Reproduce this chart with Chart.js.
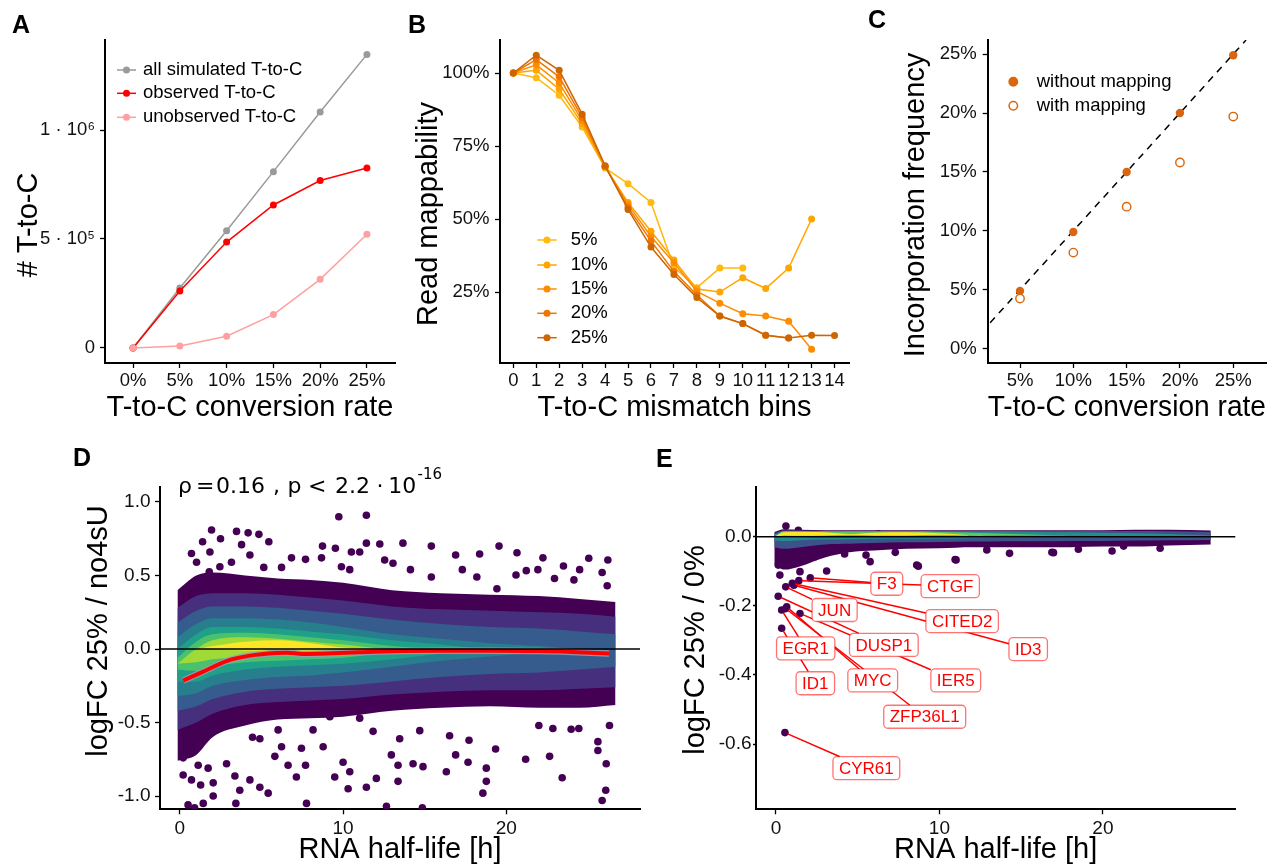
<!DOCTYPE html>
<html><head><meta charset="utf-8">
<script src="https://cdn.jsdelivr.net/npm/chart.js@4.4.1/dist/chart.umd.min.js"></script>
<style>
html,body{margin:0;padding:0;background:#fff;}
body{width:1279px;height:867px;position:relative;overflow:hidden;font-family:"Liberation Sans",Arial,sans-serif;}
canvas{position:absolute;display:block;}
.tag{position:absolute;font-weight:bold;font-size:25px;line-height:1;color:#000;font-family:"Liberation Sans",Arial,sans-serif;}
</style></head><body>
<canvas id="cA" style="left:0;top:0"></canvas>
<canvas id="cB" style="left:400px;top:0"></canvas>
<canvas id="cC" style="left:860px;top:0"></canvas>
<canvas id="cD" style="left:0;top:430px"></canvas>
<canvas id="cE" style="left:660px;top:430px"></canvas>
<div class="tag" style="left:12px;top:12px">A</div>
<div class="tag" style="left:408px;top:12px">B</div>
<div class="tag" style="left:868px;top:7px">C</div>
<div class="tag" style="left:73px;top:445px">D</div>
<div class="tag" style="left:656px;top:446px">E</div>
<script>
// ================= DATA =================
// Panel A
const conversionRates = [0, 5, 10, 15, 20, 25];
const allSimulated = [0, 275000, 538000, 809000, 1083000, 1347000];
const observedTC = [0, 261000, 486000, 656000, 768000, 826000];
const unobservedTC = [0, 9000, 54000, 153000, 315000, 522000];
const aYTicks = [0, 500000, 1000000];
const aYTickLabels = ['0', '5 · 10\u2075', '1 · 10\u2076'];
const aXTickLabels = ['0%', '5%', '10%', '15%', '20%', '25%'];

// Panel B
const mismatchBins = [0, 1, 2, 3, 4, 5, 6, 7, 8, 9, 10, 11, 12, 13, 14];
const bSeriesNames = ['5%', '10%', '15%', '20%', '25%'];
const mappability5 = [100, 98.4, 92.4, 81.5, 67.5, 62.1, 55.7, 33.5, 26.5, 33.2, 33.2];
const mappability10 = [100, 100.9, 94.5, 82.6, 67.8, 55.7, 45.8, 36.0, 26.0, 25.0, 29.9, 26.2, 33.2, 50.0];
const mappability15 = [100, 102.8, 96.6, 83.7, 68.0, 55.0, 44.0, 35.0, 25.2, 21.2, 17.6, 16.8, 15.0, 5.4];
const mappability20 = [100, 104.6, 98.7, 84.8, 68.1, 54.0, 42.5, 32.0, 24.0, 16.8, 14.2, 10.2, 9.3];
const mappability25 = [100, 106.1, 100.9, 85.9, 68.2, 53.3, 40.4, 31.0, 23.1, 16.8, 14.2, 10.2, 9.3, 10.2, 10.1];
const bYTicks = [25, 50, 75, 100];

// Panel C
const cRates = [5, 10, 15, 20, 25];
const withoutMapping = [4.9, 9.9, 15.0, 20.0, 24.9];
const withMapping = [4.25, 8.15, 12.05, 15.8, 19.7];
const identityEnds = [2.2, 26.2];
const cYTicks = [0, 5, 10, 15, 20, 25];

// Panel D : density cloud bands (half-life grid, upper/lower bounds per density level)
const dCloudX = [-0.15, 1, 2, 4, 6, 8, 10, 13, 16, 19, 22, 24.5, 26.7];
const dPurpleUp = [0.40, 0.50, 0.52, 0.50, 0.48, 0.47, 0.45, 0.40, 0.38, 0.37, 0.36, 0.34, 0.32];
const dPurpleLo = [-0.76, -0.72, -0.60, -0.52, -0.48, -0.47, -0.46, -0.42, -0.40, -0.39, -0.40, -0.40, -0.38];
const dIndigoUp = [0.28, 0.36, 0.38, 0.38, 0.37, 0.35, 0.33, 0.29, 0.27, 0.26, 0.25, 0.24, 0.22];
const dIndigoLo = [-0.55, -0.50, -0.44, -0.38, -0.36, -0.35, -0.34, -0.31, -0.29, -0.28, -0.28, -0.27, -0.26];
const dBlueUp = [0.18, 0.26, 0.29, 0.29, 0.28, 0.26, 0.24, 0.20, 0.17, 0.15, 0.14, 0.12, 0.10];
const dBlueLo = [-0.42, -0.39, -0.34, -0.29, -0.27, -0.26, -0.25, -0.22, -0.19, -0.17, -0.16, -0.14, -0.12];
const dTealUp = [0.08, 0.17, 0.21, 0.21, 0.20, 0.18, 0.15, 0.10, 0.07, 0.04, 0.02, 0.0, 0.0];
const dTealLo = [-0.32, -0.30, -0.25, -0.21, -0.19, -0.18, -0.16, -0.12, -0.08, -0.05, -0.02, 0.0, 0.0];
const dGreenUp = [0.0, 0.10, 0.15, 0.15, 0.14, 0.12, 0.10, 0.06, 0.03, 0.0, 0.0, 0.0, 0.0];
const dGreenLo = [-0.22, -0.22, -0.18, -0.14, -0.12, -0.11, -0.10, -0.07, -0.03, 0.0, 0.0, 0.0, 0.0];
const dLimeUp = [-0.06, 0.05, 0.10, 0.11, 0.10, 0.08, 0.06, 0.02, 0.0, 0.0, 0.0, 0.0, 0.0];
const dLimeLo = [-0.14, -0.15, -0.12, -0.09, -0.08, -0.07, -0.06, -0.02, 0.0, 0.0, 0.0, 0.0, 0.0];
const dChartreuseUp = [-0.10, 0.0, 0.06, 0.08, 0.07, 0.05, 0.03, 0.0, 0.0, 0.0, 0.0, 0.0, 0.0];
const dChartreuseLo = [-0.10, -0.09, -0.07, -0.05, -0.04, -0.03, -0.02, 0.0, 0.0, 0.0, 0.0, 0.0, 0.0];
const dYellowUp = [0.0, 0.0, 0.02, 0.05, 0.06, 0.04, 0.01, 0.0, 0.0, 0.0, 0.0, 0.0, 0.0];
const dYellowLo = [0.0, 0.0, 0.0, -0.01, -0.01, -0.01, 0.0, 0.0, 0.0, 0.0, 0.0, 0.0, 0.0];
// Panel D : isolated genes outside the dense cloud [half-life, logFC]
const dOutlierHalfLife = [1.94,3.47,4.18,4.84,1.39,2.49,5.45,3.78,9.74,11.43,0.71,1.84,4.29,8.74,9.53,11.43,12.25,11.02,10.51,6.84,7.7,8.68,3.16,1.02,12.55,9.9,10.41,6.23,5.14,2.45,1.8,
 13.67,15.41,16.9,18.37,19.56,20.66,22.25,23.51,25.06,26.23,13.06,17.31,14.13,18.2,20.6,21.23,21.94,22.96,24.5,25.88,24.15,26.19,19.43,15.41,
 12.96,13.37,14.29,14.9,13.37,16.33,17.66,18.78,18.78,18.57,19.35,17.72,16.9,21.19,22.66,23.43,25.62,25.62,26.13,26.1,25.88,13.47,14.7,16.53,22.0,22.86,23.98,24.45,26.33,14.86,12.66,
 0.2,0.71,1.27,2.04,0.2,1.12,1.73,2.86,3.37,3.67,2.04,1.43,3.43,4.29,4.9,5.41,4.45,4.9,5.82,6.23,6.63,7.14,7.45,7.7,7.76,8.78,9.49,10.0,10.41,10.31,11.43,12.04,8.16,9.19,11.02,11.84,6.02,0.5,0.9];
const dOutlierLogFC = [0.81,0.80,0.79,0.78,0.73,0.75,0.73,0.71,0.90,0.91,0.65,0.66,0.64,0.70,0.685,0.72,0.714,0.66,0.66,0.62,0.61,0.62,0.59,0.59,0.605,0.56,0.54,0.555,0.555,0.56,0.525,
 0.72,0.70,0.64,0.646,0.70,0.655,0.62,0.565,0.617,0.605,0.583,0.54,0.54,0.49,0.503,0.533,0.54,0.48,0.54,0.52,0.47,0.43,0.41,0.49,
 -0.72,-0.79,-0.78,-0.80,-0.90,-0.835,-0.77,-0.81,-0.90,-0.98,-0.68,-0.62,-0.72,-0.75,-0.73,-0.875,-0.63,-0.69,-0.78,-0.96,-1.03,-0.61,-0.555,-0.59,-0.52,-0.54,-0.546,-0.54,-0.52,-1.08,-1.07,
 -0.857,-0.89,-0.925,-0.91,-0.74,-0.79,-0.81,-0.78,-0.864,-0.96,-1.0,-1.05,-1.05,-0.89,-0.94,-0.98,-0.6,-0.61,-0.73,-0.665,-0.79,-0.87,-0.675,-0.79,-1.05,-0.665,-0.87,-0.77,-0.835,-0.95,-0.94,-0.88,-0.55,-0.46,-0.47,-0.56,-0.55,-1.06,-1.08];
// Panel D : loess trend
const dTrendHalfLife = [0.2, 1.4, 2.9, 4.3, 5.9, 6.6, 7.5, 9, 11, 13, 16, 19, 22, 24, 26.3];
const dTrendLogFC = [-0.215, -0.155, -0.08, -0.045, -0.027, -0.025, -0.033, -0.03, -0.022, -0.015, -0.012, -0.012, -0.014, -0.02, -0.03];
const dYTicks = [-1, -0.5, 0, 0.5, 1];
const dYTickLabels = ['-1.0', '-0.5', '0.0', '0.5', '1.0'];
const halfLifeTicks = [0, 10, 20];

// Panel E : band
const eBandX = [-0.1, 0.5, 1.5, 3, 4.5, 6, 8, 10, 12, 14, 16, 18, 20, 22, 24, 26.6];
const ePurpleUp = [0.014, 0.022, 0.02, 0.019, 0.019, 0.019, 0.019, 0.019, 0.019, 0.019, 0.019, 0.019, 0.019, 0.02, 0.02, 0.018];
const ePurpleLo = [-0.08, -0.095, -0.085, -0.06, -0.045, -0.04, -0.035, -0.033, -0.03, -0.03, -0.03, -0.03, -0.028, -0.028, -0.025, -0.022];
const eBlueUp = [0.01, 0.018, 0.018, 0.017, 0.017, 0.017, 0.017, 0.017, 0.017, 0.017, 0.017, 0.017, 0.017, 0.017, 0.016, 0.014];
const eBlueLo = [-0.03, -0.035, -0.03, -0.022, -0.02, -0.018, -0.016, -0.015, -0.014, -0.013, -0.013, -0.012, -0.012, -0.011, -0.01, -0.009];
const eTealUp = [0.006, 0.017, 0.017, 0.016, 0.016, 0.016, 0.016, 0.016, 0.015, 0.015, 0.014, 0.013, 0.012, 0.01, 0.008, 0.004];
const eTealLo = [-0.01, -0.012, -0.01, -0.008, -0.007, -0.006, -0.006, -0.005, -0.004, -0.003, -0.002, -0.002, -0.001, 0, 0, 0];
const eGreenUp = [0, 0.016, 0.016, 0.015, 0.015, 0.015, 0.015, 0.014, 0.012, 0.009, 0.006, 0.003, 0, 0, 0, 0];
const eGreenLo = [0, -0.002, -0.002, 0.0, 0.0, 0.001, 0.001, 0.002, 0.003, 0.004, 0.004, 0.003, 0, 0, 0, 0];
const eYellowUp = [0, 0.013, 0.014, 0.013, 0.008, 0.012, 0.013, 0.01, 0.004, 0, 0, 0, 0, 0, 0, 0];
const eYellowLo = [0, 0.004, 0.003, 0.004, 0.006, 0.004, 0.004, 0.006, 0.004, 0, 0, 0, 0, 0, 0, 0];
const eOutlierHalfLife = [0.61,1.37,6.27,0.24,0.14,0.96,1.67,3.1,5.51,5.76,8.61,11.02,14.29,16.98,1.47,0.24,2.39,16.88,20.56,21.27,12.9,10.96,8.71,4.2,7.3,18.5,23.5];
const eOutlierLogFC = [0.031,0.019,0.008,-0.048,-0.082,-0.072,-0.067,-0.099,-0.053,-0.072,-0.082,-0.067,-0.048,-0.046,-0.101,-0.111,-0.058,-0.045,-0.041,-0.027,-0.038,-0.066,-0.085,-0.05,-0.045,-0.036,-0.033];
// Panel E : labelled genes
const genes = ['F3', 'CTGF', 'CITED2', 'ID3', 'JUN', 'DUSP1', 'EGR1', 'ID1', 'MYC', 'IER5', 'ZFP36L1', 'CYR61'];
const geneHalfLife = [2.1, 1.4, 1.0, 1.1, 0.6, 0.14, 0.35, 0.35, 0.66, 1.47, 0.6, 0.55];
const geneLogFC = [-0.119, -0.127, -0.135, -0.14, -0.145, -0.172, -0.212, -0.265, -0.203, -0.222, -0.208, -0.567];
const labelHalfLife = [6.78, 10.66, 11.39, 15.43, 3.59, 6.60, 1.82, 2.41, 5.92, 11.0, 9.1, 5.53];
const labelLogFC = [-0.136, -0.143, -0.244, -0.325, -0.212, -0.313, -0.323, -0.424, -0.416, -0.416, -0.521, -0.670];
const eYTicks = [-0.6, -0.4, -0.2, 0];
const eYTickLabels = ['-0.6', '-0.4', '-0.2', '0.0'];

// ================= HELPERS =================
const FONT = '"Liberation Sans", Arial, Helvetica, sans-serif';
const MATHFONT = '"DejaVu Sans", sans-serif';
const xy = (xs, ys) => ys.map((y, i) => ({x: xs[i], y: y}));

function axis(o) {
  return {
    type: 'linear', position: o.position, min: o.min, max: o.max,
    afterBuildTicks: s => { s.ticks = o.ticks.map(v => ({value: v})); },
    afterFit: s => { if (o.position === 'left') s.width = o.size; else s.height = o.size; },
    ticks: {
      font: {family: FONT, size: o.fontSize || 18.5}, color: '#111', padding: o.pad,
      autoSkip: false, maxRotation: 0, minRotation: 0,
      callback: (v) => { const i = o.ticks.indexOf(v); return o.labels ? o.labels[i] : String(v); }
    },
    grid: {display: true, drawOnChartArea: false, drawTicks: true, tickLength: o.tickLen, tickWidth: 1.3, tickColor: '#000'},
    border: {display: true, color: '#000', width: 2},
    title: o.title ? {display: true, text: o.title, font: {family: FONT, size: 29}, color: '#000', padding: {top: 0, bottom: o.titlePad}} : {display: false}
  };
}

const yTitlePlugin = {
  id: 'ytitle',
  afterDraw(chart, args, opts) {
    if (!opts || !opts.text) return;
    const ctx = chart.ctx; ctx.save();
    ctx.translate(opts.x, opts.y); ctx.rotate(-Math.PI / 2);
    ctx.font = '29px ' + FONT; ctx.fillStyle = '#000';
    ctx.textAlign = 'center'; ctx.textBaseline = 'middle';
    ctx.fillText(opts.text, 0, 0); ctx.restore();
  }
};
const legendPlugin = {
  id: 'innerLegend',
  afterDraw(chart, args, opts) {
    if (!opts || !opts.indices) return;
    const ctx = chart.ctx; ctx.save();
    ctx.font = '18.5px ' + FONT; ctx.textBaseline = 'middle'; ctx.textAlign = 'left';
    opts.indices.forEach((di, k) => {
      const ds = chart.data.datasets[di]; const y = opts.ys[k];
      const col = ds.pointBorderColor || ds.borderColor;
      if (opts.style === 'linepoint') {
        ctx.strokeStyle = ds.borderColor; ctx.lineWidth = 1.5;
        ctx.beginPath(); ctx.moveTo(opts.x0, y); ctx.lineTo(opts.x1, y); ctx.stroke();
        ctx.fillStyle = ds.borderColor; ctx.beginPath(); ctx.arc((opts.x0 + opts.x1) / 2, y, opts.r, 0, Math.PI * 2); ctx.fill();
      } else {
        ctx.beginPath(); ctx.arc(opts.x0, y, opts.r, 0, Math.PI * 2);
        ctx.fillStyle = ds.pointBackgroundColor; ctx.fill();
        ctx.strokeStyle = col; ctx.lineWidth = 1.5; ctx.stroke();
      }
      ctx.fillStyle = '#000'; ctx.fillText(ds.label, opts.textX, y);
    });
    ctx.restore();
  }
};
const hlinePlugin = {
  id: 'hline',
  afterDatasetsDraw(chart, args, opts) {
    if (!opts || opts.value === undefined) return;
    const y = chart.scales.y.getPixelForValue(opts.value), a = chart.chartArea, ctx = chart.ctx;
    ctx.save(); ctx.strokeStyle = '#000'; ctx.lineWidth = 1.6;
    ctx.beginPath(); ctx.moveTo(a.left, y); ctx.lineTo(a.right, y); ctx.stroke(); ctx.restore();
  }
};
const annotPlugin = {
  id: 'annot',
  afterDraw(chart, args, opts) {
    if (!opts || !opts.parts) return;
    const ctx = chart.ctx; ctx.save(); ctx.fillStyle = '#000'; ctx.textBaseline = 'alphabetic'; ctx.textAlign = 'left';
    opts.parts.forEach(p => { ctx.font = p.size + 'px ' + MATHFONT; ctx.fillText(p.t, p.x, p.y); });
    ctx.restore();
  }
};
const genePlugin = {
  id: 'geneLabels',
  afterDatasetsDraw(chart, args, opts) {
    if (!opts || !opts.names) return;
    const ctx = chart.ctx, sx = chart.scales.x, sy = chart.scales.y;
    ctx.save(); ctx.font = '17px ' + FONT;
    const boxes = opts.names.map((n, i) => {
      const w = ctx.measureText(n).width + 12, h = 23;
      return {n, w, h, cx: sx.getPixelForValue(opts.lx[i]), cy: sy.getPixelForValue(opts.ly[i]),
              px: sx.getPixelForValue(opts.px[i]), py: sy.getPixelForValue(opts.py[i])};
    });
    ctx.strokeStyle = '#FF0000'; ctx.lineWidth = 1.5;
    boxes.forEach(b => {
      const dx = b.cx - b.px, dy = b.cy - b.py;
      const t = Math.min((b.w / 2) / Math.max(Math.abs(dx), 1e-6), (b.h / 2) / Math.max(Math.abs(dy), 1e-6));
      const ex = b.cx - dx * t, ey = b.cy - dy * t;
      const len = Math.hypot(dx, dy), sx0 = b.px + dx / len * 3, sy0 = b.py + dy / len * 3;
      ctx.beginPath(); ctx.moveTo(sx0, sy0); ctx.lineTo(ex, ey); ctx.stroke();
    });
    boxes.forEach(b => {
      const x = b.cx - b.w / 2, y = b.cy - b.h / 2;
      ctx.beginPath(); ctx.roundRect(x, y, b.w, b.h, 4);
      ctx.fillStyle = '#fff'; ctx.fill();
      ctx.strokeStyle = 'rgba(255,0,0,0.55)'; ctx.lineWidth = 1.3; ctx.stroke();
      ctx.fillStyle = '#FF0000'; ctx.textAlign = 'center'; ctx.textBaseline = 'middle';
      ctx.fillText(b.n, b.cx, b.cy + 1);
    });
    ctx.restore();
  }
};
Chart.register(yTitlePlugin, legendPlugin, hlinePlugin, annotPlugin, genePlugin);

function make(id, w, h, datasets, scales, padding, plugins) {
  const cv = document.getElementById(id); cv.width = w; cv.height = h;
  return new Chart(cv, {
    type: 'line', data: {datasets},
    options: {
      responsive: false, animation: false, devicePixelRatio: 1,
      layout: {padding},
      plugins: Object.assign({legend: {display: false}, tooltip: {enabled: false}}, plugins),
      scales
    }
  });
}
function bandSets(xs, levels) {
  const out = [];
  levels.forEach(l => {
    out.push({data: xy(xs, l[1]), fill: '+1', backgroundColor: l[0], borderColor: 'rgba(0,0,0,0)', borderWidth: 0, pointRadius: 0, cubicInterpolationMode: 'monotone'});
    out.push({data: xy(xs, l[2]), fill: false, borderColor: 'rgba(0,0,0,0)', borderWidth: 0, pointRadius: 0, cubicInterpolationMode: 'monotone'});
  });
  return out;
}
function lineSet(label, xs, ys, color, order, r) {
  return {label, data: xy(xs, ys), borderColor: color, backgroundColor: color, pointBackgroundColor: color,
          borderWidth: 1.5, pointRadius: r, pointBorderWidth: 0, order, tension: 0};
}

// ================= PANEL A =================
make('cA', 400, 430, [
  lineSet('all simulated T-to-C', conversionRates, allSimulated, '#9A9A9A', 3, 3.5),
  lineSet('observed T-to-C', conversionRates, observedTC, '#FF0000', 2, 3.5),
  lineSet('unobserved T-to-C', conversionRates, unobservedTC, '#FFA0A0', 1, 3.5)
], {
  x: axis({position: 'bottom', min: -3, max: 28, ticks: conversionRates, labels: aXTickLabels, size: 67, tickLen: 5, pad: 1.5, title: 'T-to-C conversion rate', titlePad: 4.5}),
  y: axis({position: 'left', min: -69000, max: 1413000, ticks: aYTicks, labels: aYTickLabels, size: 105, tickLen: 5, pad: 5})
}, {left: 0, right: 5, top: 40, bottom: 0}, {
  ytitle: {text: '# T-to-C', x: 29, y: 225},
  innerLegend: {indices: [0, 1, 2], ys: [70, 93.3, 117.3], x0: 117, x1: 136, r: 3.5, textX: 143, style: 'linepoint'}
});

// ================= PANEL B =================
const bColors = ['#FFB90F', '#FFA500', '#FF8C00', '#EE7600', '#CD6600'];
const bValues = [mappability5, mappability10, mappability15, mappability20, mappability25];
make('cB', 460, 430, bValues.map((v, i) => lineSet(bSeriesNames[i], mismatchBins.slice(0, v.length), v, bColors[i], 5 - i, 3.5)), {
  x: axis({position: 'bottom', min: -0.58, max: 14.63, ticks: mismatchBins, size: 67, tickLen: 5, pad: 1.5, title: 'T-to-C mismatch bins', titlePad: 4.5}),
  y: axis({position: 'left', min: 0.7, max: 111.3, ticks: bYTicks, labels: bYTicks.map(v => v + '%'), size: 100, tickLen: 5, pad: 5.5})
}, {left: 0, right: 11, top: 40, bottom: 0}, {
  ytitle: {text: 'Read mappability', x: 29, y: 214},
  innerLegend: {indices: [0, 1, 2, 3, 4], ys: [240, 265, 289, 313.3, 337.7], x0: 137.3, x1: 156.7, r: 3.5, textX: 170.7, style: 'linepoint'}
});

// ================= PANEL C =================
const cColor = '#D9650F';
make('cC', 419, 430, [
  {label: 'without mapping', data: xy(cRates, withoutMapping), showLine: false, pointRadius: 4.2, pointBackgroundColor: cColor, pointBorderColor: cColor, pointBorderWidth: 0, borderColor: cColor},
  {label: 'with mapping', data: xy(cRates, withMapping), showLine: false, pointRadius: 4.2, pointBackgroundColor: '#fff', pointBorderColor: cColor, pointBorderWidth: 1.4, borderColor: cColor},
  {data: xy(identityEnds, identityEnds), borderColor: '#000', borderWidth: 1.5, borderDash: [7, 6], pointRadius: 0, order: 5}
], {
  x: axis({position: 'bottom', min: 1.97, max: 28.07, ticks: cRates, labels: cRates.map(v => v + '%'), size: 67, tickLen: 5, pad: 1.5, title: 'T-to-C conversion rate', titlePad: 4.5}),
  y: axis({position: 'left', min: -1.22, max: 26.2, ticks: cYTicks, labels: cYTicks.map(v => v + '%'), size: 127.7, tickLen: 5, pad: 6})
}, {left: 0, right: 13, top: 40, bottom: 0}, {
  ytitle: {text: 'Incorporation frequency', x: 56, y: 205},
  innerLegend: {indices: [0, 1], ys: [81.7, 105.7], x0: 153.3, r: 4.2, textX: 176.7, style: 'point'}
});

// ================= PANEL D =================
const dLevels = [
  ['#FDE725', dYellowUp, dYellowLo],
  ['#A0DA39', dChartreuseUp, dChartreuseLo],
  ['#4AC16D', dLimeUp, dLimeLo],
  ['#1FA187', dGreenUp, dGreenLo],
  ['#277F8E', dTealUp, dTealLo],
  ['#365C8D', dBlueUp, dBlueLo],
  ['#46307E', dIndigoUp, dIndigoLo],
  ['#440154', dPurpleUp, dPurpleLo]
];
make('cD', 660, 437, bandSets(dCloudX, dLevels).concat([
  {data: xy(dOutlierHalfLife, dOutlierLogFC), showLine: false, pointRadius: 3.8, pointBackgroundColor: '#440154', pointBorderWidth: 0, borderColor: '#440154'},
  {data: xy(dTrendHalfLife, dTrendLogFC), borderColor: '#FF0000', borderWidth: 4, pointRadius: 0, cubicInterpolationMode: 'monotone', fill: false, order: -2},
  {data: xy(dTrendHalfLife, dTrendLogFC), borderColor: 'rgba(150,155,180,0.9)', borderWidth: 6.5, pointRadius: 0, cubicInterpolationMode: 'monotone', fill: false, order: -1}
]), {
  x: axis({position: 'bottom', min: -1.22, max: 28.2, ticks: halfLifeTicks, size: 57.7, tickLen: 5, pad: 3, fontSize: 19, title: 'RNA half-life [h]', titlePad: 0}),
  y: axis({position: 'left', min: -1.09, max: 1.104, ticks: dYTicks, labels: dYTickLabels, size: 160, tickLen: 5, pad: 4.5, fontSize: 19})
}, {left: 0, right: 20, top: 56.7, bottom: 0}, {
  ytitle: {text: 'logFC 25% / no4sU', x: 99, y: 201},
  hline: {value: 0},
  annot: {parts: [
    {t: '\u03C1', x: 178, y: 63.3, size: 22}, {t: '=', x: 196, y: 63.3, size: 22}, {t: '0.16', x: 216, y: 63.3, size: 22},
    {t: ',', x: 273, y: 63.3, size: 22}, {t: 'p', x: 287.5, y: 63.3, size: 22}, {t: '<', x: 308, y: 63.3, size: 22},
    {t: '2.2', x: 335, y: 63.3, size: 22}, {t: '\u00B7', x: 376.5, y: 63.3, size: 22}, {t: '10', x: 388.3, y: 63.3, size: 22},
    {t: '-16', x: 417.5, y: 49, size: 15}
  ]}
});

// ================= PANEL E =================
const eLevels = [
  ['#FDE725', eYellowUp, eYellowLo],
  ['#5DC863', eGreenUp, eGreenLo],
  ['#21908C', eTealUp, eTealLo],
  ['#3B528B', eBlueUp, eBlueLo],
  ['#440154', ePurpleUp, ePurpleLo]
];
make('cE', 619, 437, bandSets(eBandX, eLevels).concat([
  {data: xy(eOutlierHalfLife, eOutlierLogFC), showLine: false, pointRadius: 3.8, pointBackgroundColor: '#440154', pointBorderWidth: 0, borderColor: '#440154'},
  {data: xy(geneHalfLife, geneLogFC), showLine: false, pointRadius: 3.8, pointBackgroundColor: '#440154', pointBorderWidth: 0, borderColor: '#440154'}
]), {
  x: axis({position: 'bottom', min: -1.22, max: 28.1, ticks: halfLifeTicks, size: 57.7, tickLen: 5, pad: 3, fontSize: 19, title: 'RNA half-life [h]', titlePad: 0}),
  y: axis({position: 'left', min: -0.789, max: 0.145, ticks: eYTicks, labels: eYTickLabels, size: 96, tickLen: 3, pad: 1.5, fontSize: 19})
}, {left: 0, right: 43.7, top: 56.7, bottom: 0}, {
  ytitle: {text: 'logFC 25% / 0%', x: 36, y: 220},
  hline: {value: 0},
  geneLabels: {names: genes, px: geneHalfLife, py: geneLogFC, lx: labelHalfLife, ly: labelLogFC}
});
</script>
</body></html>
